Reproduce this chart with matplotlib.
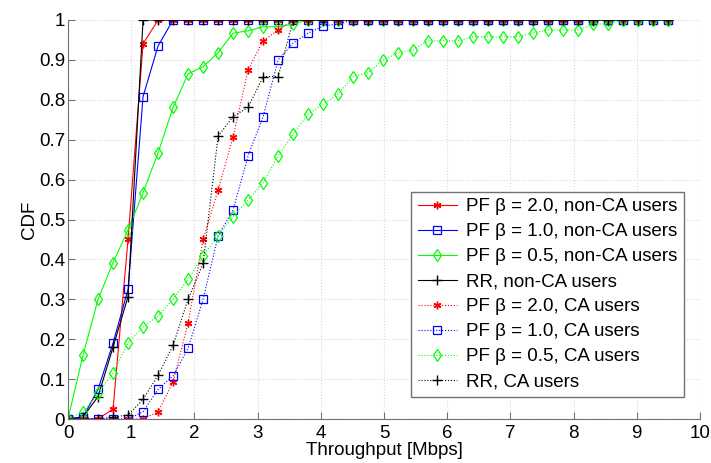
import numpy as np
import matplotlib
matplotlib.use('Agg')
import matplotlib.pyplot as plt

plt.rcParams['font.family'] = ['Liberation Sans', 'DejaVu Sans']
plt.rcParams['font.size'] = 13.5

# throughput sample points (Mbps)
x = np.linspace(0, 9.5, 41)

def pad(vals):
    # CDF stays at 1 after the last listed value
    return list(vals) + [1.0] * (41 - len(vals))

pf20_non = pad([0, 0, 0, 0.025, 0.45, 0.94, 1])
pf10_non = pad([0, 0.005, 0.074, 0.19, 0.325, 0.808, 0.935, 1])
pf05_non = pad([0, 0.16, 0.30, 0.392, 0.474, 0.567, 0.667, 0.781, 0.865, 0.883,
                0.918, 0.967, 0.973, 0.983, 0.983, 0.99, 1])
rr_non = pad([0, 0.005, 0.056, 0.18, 0.307, 1])

pf20_ca = pad([0, 0, 0, 0, 0, 0, 0.018, 0.093, 0.241, 0.45, 0.574, 0.707,
               0.875, 0.948, 0.975, 1])
pf10_ca = pad([0, 0, 0, 0, 0, 0.018, 0.074, 0.108, 0.177, 0.30, 0.459, 0.524,
               0.66, 0.758, 0.90, 0.942, 0.967, 0.985, 0.99, 1])
pf05_ca = pad([0, 0.018, 0.064, 0.116, 0.191, 0.231, 0.258, 0.30, 0.35, 0.409,
               0.459, 0.507, 0.549, 0.592, 0.66, 0.714, 0.764, 0.789, 0.815,
               0.858, 0.868, 0.90, 0.918, 0.926, 0.948, 0.948, 0.948, 0.958,
               0.958, 0.958, 0.958, 0.968, 0.975, 0.975, 0.975, 0.99, 0.99, 1])
rr_ca = pad([0, 0, 0, 0.005, 0.01, 0.049, 0.11, 0.185, 0.30, 0.39, 0.709,
             0.758, 0.781, 0.858, 0.858, 1])

labels = ['PF \u03b2 = 2.0, non-CA users', 'PF \u03b2 = 1.0, non-CA users',
          'PF \u03b2 = 0.5, non-CA users', 'RR, non-CA users',
          'PF \u03b2 = 2.0, CA users', 'PF \u03b2 = 1.0, CA users',
          'PF \u03b2 = 0.5, CA users', 'RR, CA users']

asterisk = (6, 2, 0)

fig = plt.figure(figsize=(7.11, 4.63), dpi=100)
ax = fig.add_axes([68/711, 44/463, 632/711, 399/463])

lw = 0.8
ax.plot(x, pf20_non, '-', color='red', marker=asterisk, ms=5.5, lw=lw, label=labels[0])
ax.plot(x, pf10_non, '-', color='blue', marker='s', mfc='none', ms=5.5, mew=0.9, lw=lw, label=labels[1])
ax.plot(x, pf05_non, '-', color='lime', marker='d', mfc='none', ms=6.5, mew=0.9, lw=lw, label=labels[2])
ax.plot(x, rr_non, '-', color='black', marker='+', ms=6.5, lw=lw, label=labels[3])
ax.plot(x, pf20_ca, ':', color='red', marker=asterisk, ms=5.5, lw=lw, label=labels[4])
ax.plot(x, pf10_ca, ':', color='blue', marker='s', mfc='none', ms=5.5, mew=0.9, lw=lw, label=labels[5])
ax.plot(x, pf05_ca, ':', color='lime', marker='d', mfc='none', ms=6.5, mew=0.9, lw=lw, label=labels[6])
ax.plot(x, rr_ca, ':', color='black', marker='+', ms=6.5, lw=lw, label=labels[7])

ax.set_xlim(0, 10)
ax.set_ylim(0, 1)
ax.set_xticks(range(0, 11))
ax.set_yticks(np.arange(0, 1.01, 0.1))
ax.set_yticklabels(['0', '0.1', '0.2', '0.3', '0.4', '0.5', '0.6', '0.7', '0.8', '0.9', '1'])
ax.grid(True, color='#d8d8d8', linestyle=':', linewidth=0.8)
ax.set_axisbelow(True)
for s in ['top', 'right']:
    ax.spines[s].set_visible(False)
for s in ['left', 'bottom']:
    ax.spines[s].set_color('#707070')
ax.tick_params(direction='in', color='#707070', length=5)
ax.tick_params(axis='x', pad=4)
ax.tick_params(axis='y', pad=2)
ax.set_xlabel('Throughput [Mbps]', labelpad=0)
ax.set_ylabel('CDF', labelpad=1)

leg = ax.legend(loc='lower right', bbox_to_anchor=(0.975, 0.055), borderaxespad=0,
                fancybox=False, edgecolor='#707070', framealpha=1,
                handlelength=2.1, labelspacing=0.42, borderpad=0.35,
                handletextpad=0.5)
leg.get_frame().set_linewidth(1.0)

fig.savefig('out.png', dpi=100)
